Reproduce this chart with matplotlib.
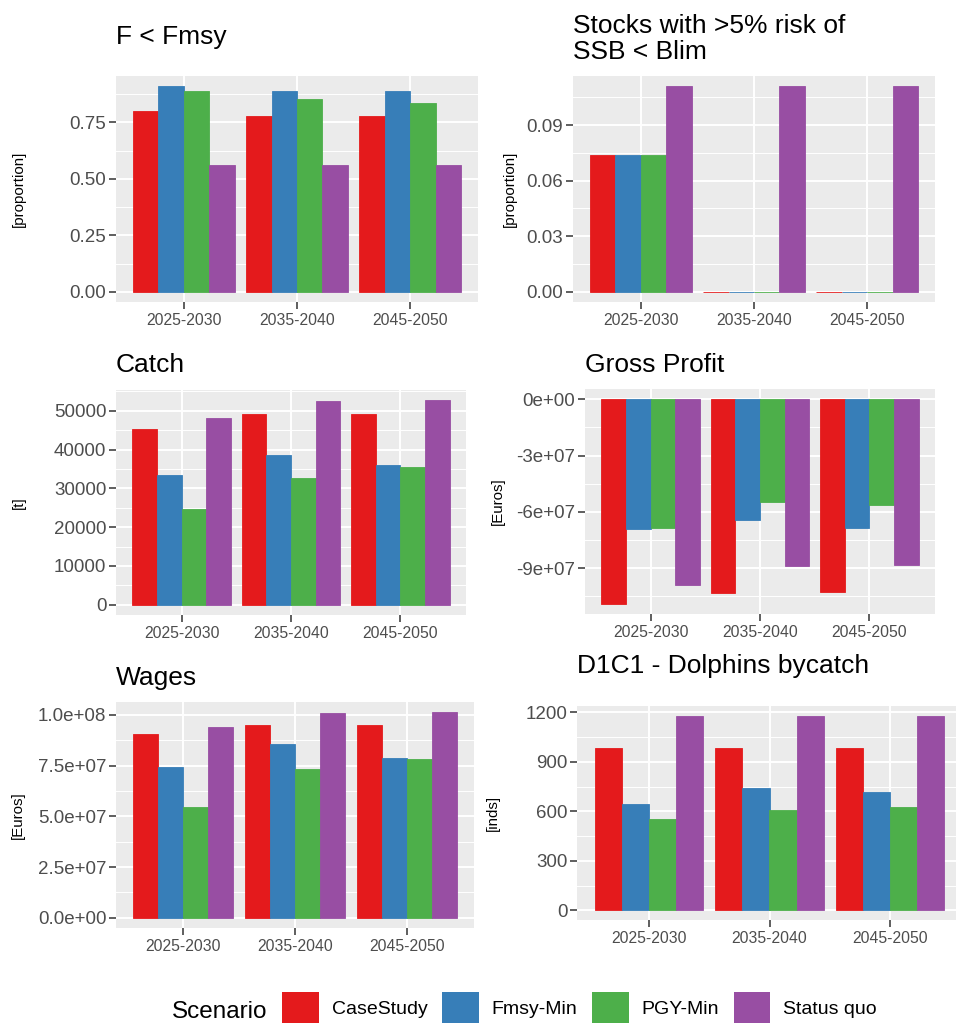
import numpy as np
import matplotlib
matplotlib.use("Agg")
import matplotlib.pyplot as plt
from matplotlib.patches import Patch

plt.rcParams['font.family'] = ['Liberation Sans', 'DejaVu Sans']

# data
scenarios = ["CaseStudy", "Fmsy-Min", "PGY-Min", "Status quo"]
periods = ["2025-2030", "2035-2040", "2045-2050"]
colors = ["#E41A1C", "#377EB8", "#4DAF4A", "#984EA3"]

# rows follow the order of scenarios, columns the order of periods
f_below_fmsy = [[0.80, 0.78, 0.78],
                [0.91, 0.89, 0.89],
                [0.89, 0.855, 0.837],
                [0.56, 0.56, 0.56]]
ssb_risk = [[0.074, 0.0, 0.0],
            [0.074, 0.0, 0.0],
            [0.074, 0.0, 0.0],
            [0.111, 0.111, 0.111]]
catch = [[45400, 49100, 49100],
         [33400, 38700, 36000],
         [24800, 32600, 35600],
         [48200, 52500, 52700]]
gross_profit = [[-1.09e8, -1.034e8, -1.029e8],
                [-6.92e7, -6.42e7, -6.85e7],
                [-6.88e7, -5.45e7, -5.65e7],
                [-9.90e7, -8.91e7, -8.84e7]]
wages = [[9.05e7, 9.51e7, 9.51e7],
         [7.43e7, 8.56e7, 7.87e7],
         [5.46e7, 7.33e7, 7.82e7],
         [9.39e7, 1.011e8, 1.013e8]]
dolphins = [[983, 987, 987],
            [646, 741, 720],
            [554, 606, 624],
            [1180, 1180, 1180]]

# tick breaks and labels
ticks_prop = [0, 0.25, 0.50, 0.75]
labels_prop = ["0.00", "0.25", "0.50", "0.75"]
ticks_risk = [0, 0.03, 0.06, 0.09]
labels_risk = ["0.00", "0.03", "0.06", "0.09"]
ticks_catch = [0, 10000, 20000, 30000, 40000, 50000]
labels_catch = ["0", "10000", "20000", "30000", "40000", "50000"]
ticks_profit = [0, -3e7, -6e7, -9e7]
labels_profit = ["0e+00", "-3e+07", "-6e+07", "-9e+07"]
ticks_wages = [0, 2.5e7, 5e7, 7.5e7, 1e8]
labels_wages = ["0.0e+00", "2.5e+07", "5.0e+07", "7.5e+07", "1.0e+08"]
ticks_dol = [0, 300, 600, 900, 1200]
labels_dol = ["0", "300", "600", "900", "1200"]

W, H = 956, 1025
fig = plt.figure(figsize=(W / 100, H / 100), dpi=100)

def px_rect(x0, y0, x1, y1):
    return [x0 / W, 1 - y1 / H, (x1 - x0) / W, (y1 - y0) / H]

def draw_panel(box, values, ticks, labels, title, title_y, ylabel, ylab_x):
    ax = fig.add_axes(px_rect(*box))
    ax.set_facecolor("#EBEBEB")
    for s in ax.spines.values():
        s.set_visible(False)
    x = np.arange(1, len(periods) + 1)
    w = 0.9 / len(scenarios)
    for j, name in enumerate(scenarios):
        ax.bar(x + (j - 1.5) * w, values[j], width=w, color=colors[j],
               edgecolor=colors[j], linewidth=0.6, label=name, zorder=3)
    vals = np.array(values, dtype=float)
    lo, hi = min(0, vals.min()), max(0, vals.max())
    pad = 0.05 * (hi - lo)
    ax.set_ylim(lo - pad, hi + pad)
    ax.set_xlim(0.4, len(periods) + 0.6)
    # minor grid between the major breaks
    step = abs(ticks[1] - ticks[0])
    t = np.sort(np.array(ticks, dtype=float))
    minors = np.concatenate([[t[0] - step / 2], t + step / 2])
    for m in minors:
        if lo - pad < m < hi + pad:
            ax.axhline(m, color="white", lw=0.7, zorder=1)
    ax.set_yticks(ticks)
    ax.set_yticklabels(labels)
    ax.set_xticks(x)
    ax.set_xticklabels(periods)
    ax.grid(True, color="white", lw=1.4, zorder=2)
    ax.set_axisbelow(True)
    ax.tick_params(axis="y", labelsize=13.5, colors="#333333", labelcolor="#4D4D4D",
                   length=5, width=1.1, pad=2)
    ax.tick_params(axis="x", labelsize=11.3, colors="#333333", labelcolor="#4D4D4D",
                   length=5, width=1.1, pad=3)
    fig.text(box[0] / W, 1 - title_y / H, title, fontsize=19, ha="left",
             va="baseline", linespacing=1.1)
    fig.text(ylab_x / W, 1 - (box[1] + box[3]) / 2 / H, ylabel, fontsize=10.8,
             rotation=90, ha="center", va="center", color="black")
    return ax

draw_panel((116, 76, 478, 302), f_below_fmsy, ticks_prop, labels_prop,
           "F < Fmsy", 44, "[proportion]", 19)
draw_panel((573, 76, 935, 302), ssb_risk, ticks_risk, labels_risk,
           "Stocks with >5% risk of\nSSB < Blim", 59, "[proportion]", 510)
draw_panel((116, 390, 466, 615), catch, ticks_catch, labels_catch,
           "Catch", 372, "[t]", 19)
draw_panel((585, 389, 935, 614), gross_profit, ticks_profit, labels_profit,
           "Gross Profit", 372, "[Euros]", 498)
draw_panel((116, 702, 474, 928), wages, ticks_wages, labels_wages,
           "Wages", 685, "[Euros]", 18)
draw_panel((577, 706, 962, 920), dolphins, ticks_dol, labels_dol,
           "D1C1 - Dolphins bycatch", 673, "[inds]", 493)

# legend at the bottom
handles = [Patch(facecolor=c, edgecolor="none") for c in colors]
fig.text(172 / W, 1 - 1012 / H, "Scenario", fontsize=17.5, ha="left", va="center")
fig.legend(handles, scenarios, loc="upper left", bbox_to_anchor=(282 / W, 1 - 992 / H),
           ncol=4, frameon=False, fontsize=14, handlelength=1.9, handleheight=2.1,
           handletextpad=0.65, columnspacing=0.75, borderpad=0, borderaxespad=0)

fig.savefig("out.png", dpi=100, facecolor="white")
